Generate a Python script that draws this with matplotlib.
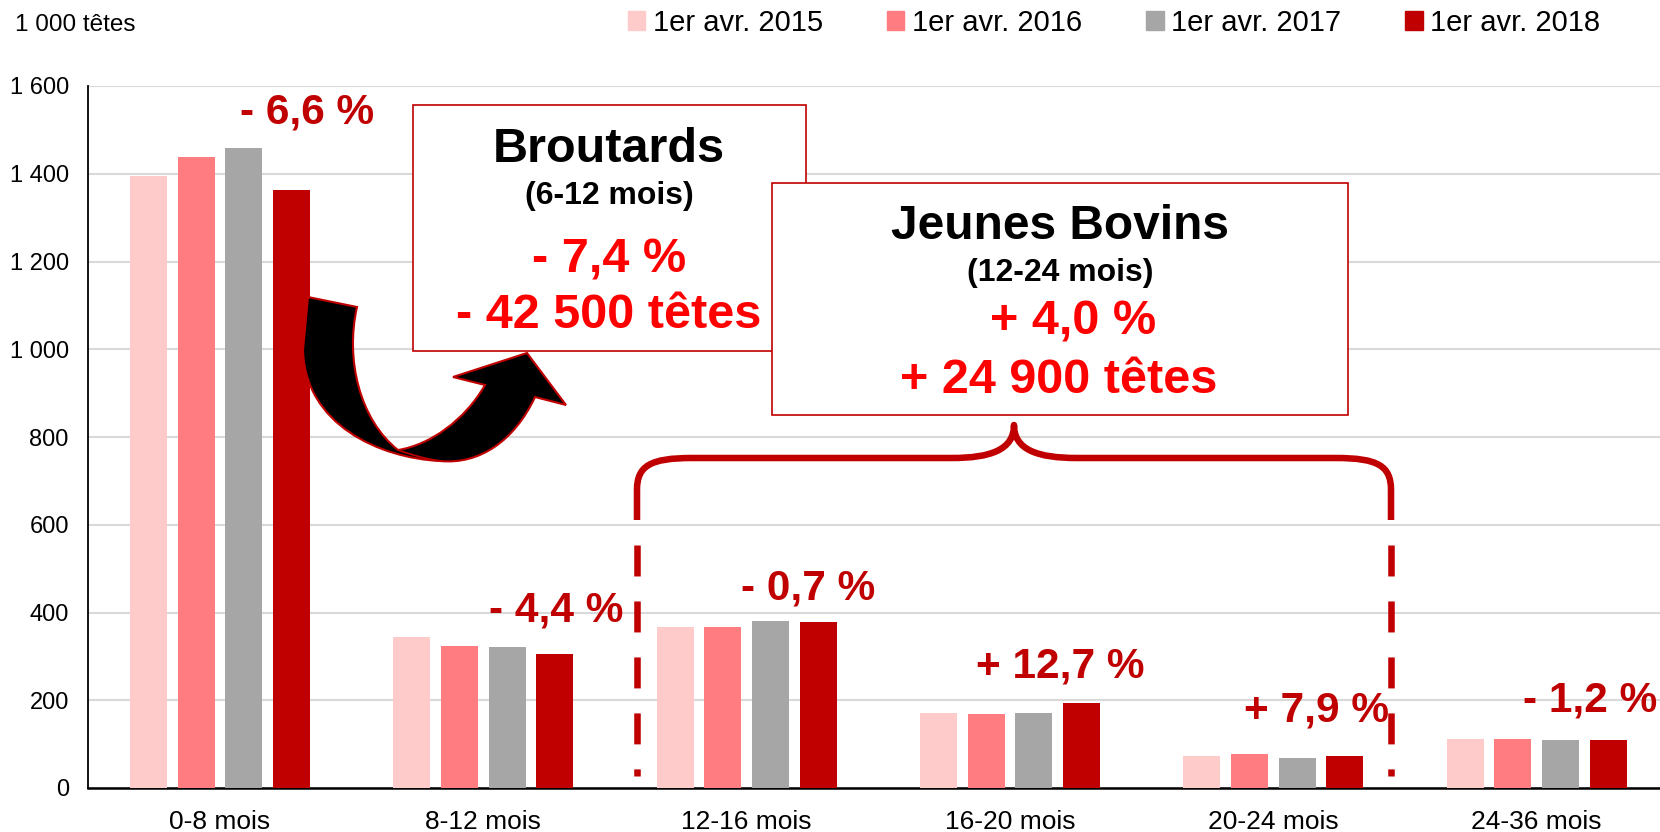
import matplotlib
matplotlib.use('Agg')
import matplotlib.pyplot as plt
import numpy as np
from matplotlib.path import Path
from matplotlib.patches import PathPatch, Rectangle, Patch
from matplotlib.lines import Line2D

plt.rcParams['font.family'] = ['Liberation Sans', 'DejaVu Sans']
plt.rcParams['lines.scale_dashes'] = False

# data
categories = ['0-8 mois', '8-12 mois', '12-16 mois', '16-20 mois', '20-24 mois', '24-36 mois']
series = ['1er avr. 2015', '1er avr. 2016', '1er avr. 2017', '1er avr. 2018']
v2015 = [1395, 345, 367, 172, 73.5, 112.5]
v2016 = [1438, 324, 367, 168.6, 77.5, 111.5]
v2017 = [1459, 320.5, 380, 171.5, 68.3, 110.5]
v2018 = [1362, 306, 377.5, 193, 73.7, 109.2]
evol = ['- 6,6 %', '- 4,4 %', '- 0,7 %', '+ 12,7 %', '+ 7,9 %', '- 1,2 %']
yticks = [0, 200, 400, 600, 800, 1000, 1200, 1400, 1600]
ytick_labels = ['0', '200', '400', '600', '800', '1 000', '1 200', '1 400', '1 600']

colors = ['#FFCACA', '#FF7C80', '#A6A6A6', '#C00000']
dark_red = '#C00000'
red = '#FF0000'

W, H = 1660, 832


def P(x, y):
    # pixel (from top-left) -> figure fraction
    return (x / W, 1 - y / H)


fig = plt.figure(figsize=(W / 100, H / 100), dpi=100)
ax = fig.add_axes([88.3 / W, 44 / H, 1580 / W, 702 / H])

x = np.arange(len(categories))
width, step = 0.14, 0.181
for i, vals in enumerate([v2015, v2016, v2017, v2018]):
    ax.bar(x + (i - 1.5) * step, vals, width, color=colors[i], zorder=3)

ax.set_xlim(-0.5, 5.5)
ax.set_ylim(0, 1600)
ax.set_yticks(yticks, ytick_labels)
ax.set_xticks(x, categories)
ax.tick_params(axis='both', length=0, labelsize=17)
ax.tick_params(axis='x', labelsize=19, pad=16)
ax.tick_params(axis='y', pad=14)
ax.grid(axis='y', color='#D9D9D9', lw=1.5, zorder=0)
ax.set_axisbelow(True)
for s in ['top', 'right']:
    ax.spines[s].set_visible(False)
ax.spines['left'].set_linewidth(1.3)
ax.spines['bottom'].set_linewidth(1.8)

fig.text(*P(15, 31), '1 000 têtes', fontsize=17.5, va='baseline')

handles = [Patch(color=c) for c in colors]
fig.legend(handles, series, loc='center right', bbox_to_anchor=P(1600, 23), ncol=4,
           frameon=False, fontsize=21, handlelength=0.6, handleheight=0.6,
           handletextpad=0.25, columnspacing=2.2, borderaxespad=0, borderpad=0)

# evolution labels
evol_pos = [(307, 123), (556, 622), (808, 599), (1060, 678), (1316, 721), (1590, 712)]
for txt, (px, py) in zip(evol, evol_pos):
    fig.text(*P(px, py), txt, color=dark_red, fontsize=30.5, fontweight='bold',
             ha='center', va='baseline', zorder=12)

# boxes
fig.add_artist(Rectangle(P(413, 351), 393 / W, 246 / H, transform=fig.transFigure,
                         fc='white', ec=dark_red, lw=1.2, zorder=4))
fig.add_artist(Rectangle(P(772, 415), 576 / W, 232 / H, transform=fig.transFigure,
                         fc='white', ec=dark_red, lw=1.2, zorder=6))

fig.text(*P(609, 162), 'Broutards', fontsize=35, fontweight='bold', ha='center', va='baseline', zorder=5)
fig.text(*P(609, 204), '(6-12 mois)', fontsize=23, fontweight='bold', ha='center', va='baseline', zorder=5)
fig.text(*P(609, 272), '- 7,4 %', fontsize=35, fontweight='bold', color=red, ha='center', va='baseline', zorder=5)
fig.text(*P(609, 328), '- 42 500 têtes', fontsize=35, fontweight='bold', color=red, ha='center', va='baseline', zorder=5)

fig.text(*P(1060, 239), 'Jeunes Bovins', fontsize=34.5, fontweight='bold', ha='center', va='baseline', zorder=7)
fig.text(*P(1060, 281), '(12-24 mois)', fontsize=23, fontweight='bold', ha='center', va='baseline', zorder=7)
fig.text(*P(1073, 334), '+ 4,0 %', fontsize=35, fontweight='bold', color=red, ha='center', va='baseline', zorder=7)
fig.text(*P(1059, 393), '+ 24 900 têtes', fontsize=35, fontweight='bold', color=red, ha='center', va='baseline', zorder=7)

# curved arrow
M, L, C = Path.MOVETO, Path.LINETO, Path.CURVE4
arrow_pts = [((308, 297), M), ((357, 307), L),
             ((345, 360), C), ((360, 420), C), ((398, 450), C),
             ((430, 445), C), ((465, 420), C), ((485, 385), C),
             ((453, 377), L), ((527, 353), L), ((566, 405), L), ((535, 397), L),
             ((515, 440), C), ((480, 465), C), ((440, 461), C),
             ((380, 458), C), ((305, 425), C), ((303, 350), C),
             ((308, 297), L)]
apath = Path([P(*p) for p, _ in arrow_pts], [c for _, c in arrow_pts])
fig.add_artist(PathPatch(apath, transform=fig.transFigure, fc='black', ec=dark_red,
                         lw=1.5, zorder=8))
twist = Path([P(398, 450), P(420, 458), P(440, 461)], [M, Path.CURVE3, Path.CURVE3])
fig.add_artist(PathPatch(twist, transform=fig.transFigure, fill=False, ec=dark_red,
                         lw=1.2, zorder=9))

# brace
brace_pts = [((637, 520), M), ((637, 490), L),
             ((637, 466), C), ((650, 458), C), ((692, 458), C),
             ((952, 458), L),
             ((990, 458), C), ((1014, 450), C), ((1014, 425), C),
             ((1014, 450), C), ((1038, 458), C), ((1077, 458), C),
             ((1336, 458), L),
             ((1378, 458), C), ((1391, 466), C), ((1391, 490), C),
             ((1391, 520), L)]
bpath = Path([P(*p) for p, _ in brace_pts], [c for _, c in brace_pts])
fig.add_artist(PathPatch(bpath, transform=fig.transFigure, fill=False, ec=dark_red,
                         lw=4.7, capstyle='butt', joinstyle='round', zorder=3))
for xv in (637, 1391):
    (x0, y0), (x1, y1) = P(xv, 545), P(xv, 776)
    fig.add_artist(Line2D([x0, x1], [y0, y1], transform=fig.transFigure, color=dark_red,
                          lw=4.7, dashes=[22.3, 18], dash_capstyle='butt', zorder=3))

fig.savefig('out.png', dpi=100)
